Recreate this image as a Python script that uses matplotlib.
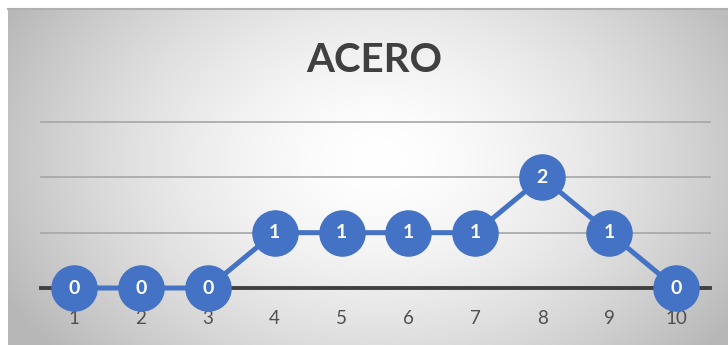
import numpy as np
import matplotlib
matplotlib.use("Agg")
import matplotlib.pyplot as plt

# datos
dias = [1, 2, 3, 4, 5, 6, 7, 8, 9, 10]
valores = [0, 0, 0, 1, 1, 1, 1, 2, 1, 0]
titulo = "ACERO"

azul = "#4472C4"

fig = plt.figure(figsize=(7.28, 3.45), dpi=100)
fig.patch.set_facecolor("white")

# fondo con degradado radial
bg = fig.add_axes([8 / 728, 0, 720 / 728, 336 / 345])
w, h = 720, 336
xx, yy = np.meshgrid(np.arange(w), np.arange(h))
r = np.sqrt(((xx - 370) / 420.0) ** 2 + ((yy - 150) / 300.0) ** 2)
g = 1.0 - 0.28 * np.clip(r, 0, 1) ** 1.6
bg.imshow(np.dstack([g, g, g]), aspect="auto", interpolation="bilinear")
bg.set_axis_off()
# borde superior
fig.add_artist(plt.Line2D([8 / 728, 1], [336 / 345, 336 / 345], color="#b0b0b0", lw=1.5))

ax = fig.add_axes([40.5 / 728, 57 / 345, 669 / 728, 166 / 345])
ax.patch.set_alpha(0)
ax.set_xlim(0.5, 10.5)
ax.set_ylim(0, 3)

for yv in [1, 2, 3]:
    ax.axhline(yv, color="#a6a6a6", lw=1.2, zorder=1, clip_on=False)
ax.axhline(0, color="#404040", lw=2.8, zorder=1, clip_on=False)

ax.plot(dias, valores, color=azul, lw=3.6, marker="o", markersize=32.5,
        markerfacecolor=azul, markeredgecolor=azul, zorder=3, clip_on=False)
for d, v in zip(dias, valores):
    ax.text(d, v, str(v), color="white", fontsize=14, fontweight="bold",
            family="Lato", ha="center", va="center", zorder=4)

for s in ax.spines.values():
    s.set_visible(False)
ax.set_yticks([])
ax.set_xticks(dias)
ax.set_xticklabels([str(d) for d in dias], fontsize=13.5, color="#505050", family="Lato")
ax.tick_params(axis="x", length=0, pad=16)

fig.text(374 / 728, 1 - 61 / 345, titulo, fontsize=29, fontweight="bold",
         color="#404040", family="Lato", ha="center", va="center")

fig.savefig("out.png", dpi=100)
